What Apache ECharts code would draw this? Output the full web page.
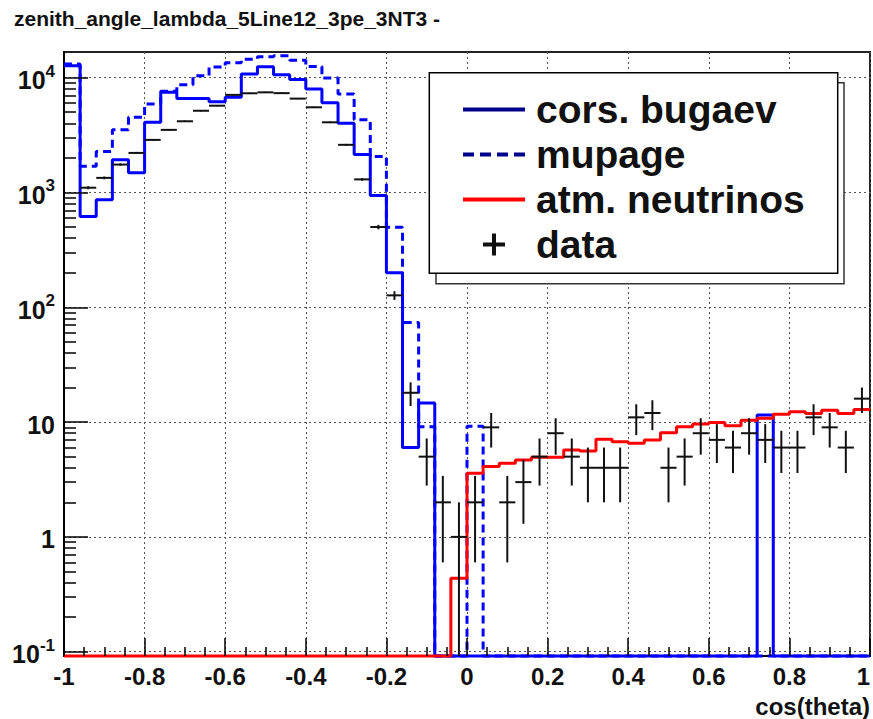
<!DOCTYPE html>
<html><head><meta charset="utf-8">
<script src="https://cdn.jsdelivr.net/npm/echarts@6/dist/echarts.min.js"></script>
<style>html,body{margin:0;padding:0;background:#fff}#c{width:873px;height:719px}</style>
</head><body><div id="c"></div>
<script>
// ---- data ----
const binLow = [-1.00,-0.96,-0.92,-0.88,-0.84,-0.80,-0.76,-0.72,-0.68,-0.64,-0.60,-0.56,-0.52,-0.48,-0.44,-0.40,-0.36,-0.32,-0.28,-0.24,-0.20,-0.16,-0.12,-0.08,-0.04,0.00,0.04,0.08,0.12,0.16,0.20,0.24,0.28,0.32,0.36,0.40,0.44,0.48,0.52,0.56,0.60,0.64,0.68,0.72,0.76,0.80,0.84,0.88,0.92,0.96];
const binWidth = 0.04;
const corsBugaev = [12700,618,864,1925,1483,4085,7450,6600,6600,6180,6740,10770,12470,10620,9650,7980,6060,4010,2140,942,200,6,14.7,0,0,0,0,0,0,0,0,0,0,0,0,0,0,0,0,0,0,0,0,11.5,0,0,0,0,0,0];
const mupage = [13150,1694,2275,3510,4520,5900,7600,8690,10400,12400,13500,14500,15200,15500,14200,12500,9940,7210,4290,2057,499,73.6,9.1,0,0,9.2,0,0,0,0,0,0,0,0,0,0,0,0,0,0,0,0,0,0,0,0,0,0,0,0];
const atmNeutrinos = [0,0,0,0,0,0,0,0,0,0,0,0,0,0,0,0,0,0,0,0,0,0,0,0,0.437,3.58,4.1,4.37,4.67,4.93,4.93,5.71,5.6,7.1,6.74,6.53,6.97,8.07,9.1,9.6,9.94,9.3,10.4,10.8,11.7,12.3,11.9,12.7,11.9,12.9];
const dataCounts = [0,1100,1340,1750,2210,2870,3510,4170,5150,5700,7080,7310,7450,7330,6570,5520,4085,2600,1300,500,127,18,5,2,1,2,9,2,3,5,8,5,4,4,4,11,12,4,5,8,7,6,8,7,6,6,11,9,6,16];
const dataErrors = [0,33,37,42,47,54,59,65,72,75,84,85,86,86,81,74,64,51,36,22,11,4.2,2.2,1.4,1,1.4,3,1.4,1.7,2.2,2.8,2.2,2,2,2,3.3,3.5,2,2.2,2.8,2.6,2.4,2.8,2.6,2.4,2.4,3.3,3,2.4,4];
const xMajorTicks = [-1,-0.8,-0.6,-0.4,-0.2,0,0.2,0.4,0.6,0.8,1];
const xMinorTicks = [-0.95,-0.9,-0.85,-0.75,-0.7,-0.65,-0.55,-0.5,-0.45,-0.35,-0.3,-0.25,-0.15,-0.1,-0.05,0.05,0.1,0.15,0.25,0.3,0.35,0.45,0.5,0.55,0.65,0.7,0.75,0.85,0.9,0.95];
const yTickExponents = [-1,0,1,2,3,4];
const yMinorMultipliers = [2,3,4,5,6,7,8,9];
const seriesNames = ['cors. bugaev','mupage','atm. neutrinos','data'];
const titleText = 'zenith_angle_lambda_5Line12_3pe_3NT3 -';
const xAxisTitle = 'cos(theta)';

// ---- layout / axis range (log10 space for y) ----
const W = 873, H = 719, G = {left: 64, right: 3, top: 52, bottom: 63};
const X_MIN = -1, X_MAX = 1;
const Y_MIN = -1.0374, Y_MAX = 4.2235;
const X_PER_PX = (X_MAX - X_MIN) / (W - G.left - G.right);
const Y_PER_PX = (Y_MAX - Y_MIN) / (H - G.top - G.bottom);
const yv = v => v > 0 ? Math.log10(v) : Y_MIN;
const yMinorTicks = [];
for (let e = -1; e <= 4; e++) for (const m of yMinorMultipliers) { const t = Math.log10(m * Math.pow(10, e)); if (t < Y_MAX) yMinorTicks.push(t); }
const toStep = vals => binLow.map((x, i) => [x, yv(vals[i])]).concat([[binLow[binLow.length-1] + binWidth, yv(vals[vals.length-1])]]);
// ROOT-style ticks inside the frame, as markLine segments (data coordinates)
const seg = (a, b) => [{coord: a}, {coord: b}];
const tickLines = []
  .concat(yTickExponents.map(t => seg([X_MIN, t], [X_MIN + 24 * X_PER_PX, t])))
  .concat(yMinorTicks.map(t => seg([X_MIN, t], [X_MIN + 12 * X_PER_PX, t])))
  .concat(xMajorTicks.map(x => seg([x, Y_MIN], [x, Y_MIN + 18 * Y_PER_PX])))
  .concat(xMinorTicks.map(x => seg([x, Y_MIN], [x, Y_MIN + 9 * Y_PER_PX])));

const FF = '"Liberation Sans", Arial, Helvetica, sans-serif';
const ICON_SOLID = 'path://M0,0 L62,0 L62,4 L0,4 Z';
const ICON_DASH = 'path://M0,0 h11 v4 h-11 Z M17,0 h11 v4 h-11 Z M34,0 h11 v4 h-11 Z M51,0 h11 v4 h-11 Z';
const ICON_PLUS = 'path://M9,0 L13,0 L13,9 L22,9 L22,13 L13,13 L13,22 L9,22 L9,13 L0,13 L0,9 L9,9 Z';

const chart = echarts.init(document.getElementById('c'), null, {renderer: 'svg'});
const lineBase = {type:'line', step:'end', symbol:'none', showSymbol:false, clip:false, animation:false};
chart.setOption({
  animation: false,
  backgroundColor: '#fff',
  title: {text: titleText, left: 14, top: 8, padding: 0, textStyle: {fontSize: 21, fontWeight: 'bold', color: '#111', fontFamily: FF}},
  grid: {left: G.left, right: G.right, top: G.top, bottom: G.bottom, containLabel: false, outerBoundsMode: 'none', show: true, borderColor: '#222', borderWidth: 2, backgroundColor: 'transparent'},
  xAxis: {
    type: 'value', min: X_MIN, max: X_MAX, interval: 0.2,
    axisLine: {show: true, onZero: false, lineStyle: {color: '#000', width: 2}},
    axisTick: {show: false},
    axisLabel: {margin: 8, fontSize: 24, fontWeight: 'bold', color: '#111', fontFamily: FF, alignMaxLabel: 'right'},
    splitLine: {show: true, lineStyle: {color: '#555', width: 1, type: [2, 3]}},
    name: xAxisTitle, nameLocation: 'end', nameGap: 0,
    nameTextStyle: {align: 'right', verticalAlign: 'top', padding: [38, 0, 0, 0], fontSize: 24, fontWeight: 'bold', color: '#111', fontFamily: FF}
  },
  yAxis: {
    type: 'value', min: Y_MIN, max: Y_MAX,
    axisLine: {show: true, onZero: false, lineStyle: {color: '#000', width: 2}},
    axisTick: {show: false, customValues: yTickExponents},
    axisLabel: {
      customValues: yTickExponents, margin: 9,
      formatter: v => { const e = Math.round(v); if (e === 0) return '{b|1}'; if (e === 1) return '{b|10}'; return '{b|10}{s|' + e + '}'; },
      rich: {
        b: {fontSize: 25, fontWeight: 'bold', color: '#111', fontFamily: FF, lineHeight: 30, verticalAlign: 'bottom'},
        s: {fontSize: 17, fontWeight: 'bold', color: '#111', fontFamily: FF, lineHeight: 30, verticalAlign: 'top'}
      }
    },
    splitLine: {show: true, lineStyle: {color: '#555', width: 1, type: [2, 3]}}
  },
  legend: {
    orient: 'vertical', left: 463, top: 87, padding: 0, itemWidth: 62, itemHeight: 22, itemGap: 0,
    selectedMode: false, z: 10,
    textStyle: {fontSize: 39, fontWeight: 'bold', color: '#111', fontFamily: FF, lineHeight: 45, padding: [0, 0, 0, 6]},
    data: [
      {name: seriesNames[0], icon: ICON_SOLID, itemStyle: {color: '#00008b'}},
      {name: seriesNames[1], icon: ICON_DASH, itemStyle: {color: '#00008b'}},
      {name: seriesNames[2], icon: ICON_SOLID, itemStyle: {color: '#ff0000'}},
      {name: seriesNames[3], icon: ICON_PLUS, itemStyle: {color: '#111'}}
    ]
  },
  graphic: [
    {type: 'rect', z: 8, shape: {x: 436, y: 82.7, width: 408, height: 201}, style: {fill: '#fff', stroke: '#333', lineWidth: 1.5}},
    {type: 'rect', z: 9, shape: {x: 429.3, y: 72.7, width: 408.4, height: 200.6}, style: {fill: '#fff', stroke: '#000', lineWidth: 1.5}}
  ],
  series: [
    Object.assign({}, lineBase, {name: seriesNames[0], z: 2, data: toStep(corsBugaev), itemStyle: {color: '#0000ff'}, lineStyle: {color: '#0000ff', width: 3},
      markLine: {silent: true, animation: false, symbol: ['none', 'none'], label: {show: false}, emphasis: {disabled: true},
                 lineStyle: {color: '#000', width: 1.5, type: 'solid'}, data: tickLines}}),
    Object.assign({}, lineBase, {name: seriesNames[1], z: 3, data: toStep(mupage), itemStyle: {color: '#0000ff'}, lineStyle: {color: '#0000ff', width: 3, type: [8, 5]}}),
    Object.assign({}, lineBase, {name: seriesNames[2], z: 4, data: toStep(atmNeutrinos), itemStyle: {color: '#ff0000'}, lineStyle: {color: '#ff0000', width: 3}}),
    {
      name: seriesNames[3], type: 'custom', z: 5, clip: false, animation: false,
      itemStyle: {color: '#111'},
      encode: {x: [0, 1], y: [2]},
      data: dataCounts.map((c, i) => [binLow[i], binLow[i] + binWidth, c, dataErrors[i]]).filter(d => d[2] > 0),
      renderItem: (params, api) => {
        const x0 = api.value(0), x1 = api.value(1), c = api.value(2), e = api.value(3);
        const pl = api.coord([x0, yv(c)]), pr = api.coord([x1, yv(c)]);
        const xm = (x0 + x1) / 2;
        const pt = api.coord([xm, yv(c + e)]), pb = api.coord([xm, yv(c - e)]);
        return {type: 'group', children: [
          {type: 'line', shape: {x1: pl[0], y1: pl[1], x2: pr[0], y2: pr[1]}, style: {stroke: '#111', lineWidth: 2}},
          {type: 'line', shape: {x1: pt[0], y1: pt[1], x2: pb[0], y2: pb[1]}, style: {stroke: '#111', lineWidth: 2}}
        ]};
      }
    }
  ]
});
</script></body></html>
